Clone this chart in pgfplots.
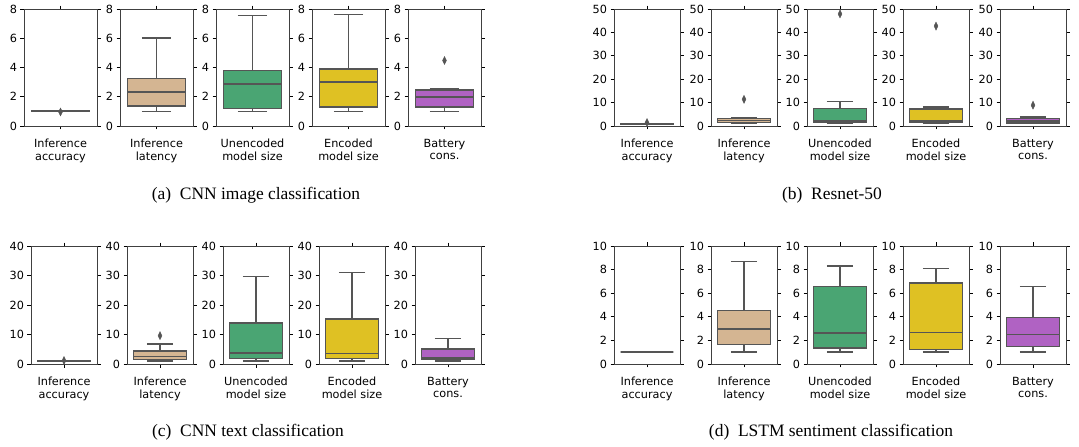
\documentclass[border=0pt]{standalone}
\usepackage{fontspec}
\usepackage{pgfplots}
\pgfplotsset{compat=1.18}
\usepgfplotslibrary{statistics}
\setmainfont{Liberation Serif}
\newfontfamily\dejavu{DejaVu Sans}
\definecolor{ctan}{HTML}{D4B592}
\definecolor{cgreen}{HTML}{4AA573}
\definecolor{cyellow}{HTML}{DFC123}
\definecolor{cpurple}{HTML}{B062C3}
\definecolor{cacc}{HTML}{5A5A5A}
\definecolor{bxedge}{HTML}{555555}
\pgfplotsset{
  panel/.style={scale only axis, anchor=south west, xmin=-0.5, xmax=0.5, ymin=0,
    xtick={0}, tick align=outside, major tick length=3.5bp,
    tick style={black, line width=0.8bp},
    axis line style={black!75, line width=0.9bp},
    yticklabel style={font=\dejavu\fontsize{11.3}{13}\selectfont},
    xticklabel style={align=center, font=\dejavu\fontsize{11.3}{12.8}\selectfont, yshift=-6bp},
    /pgf/number format/assume math mode=true, clip=false},
  gA/.style={panel, width=73bp, height=117bp, ymax=8, ytick={0,2,4,6,8}},
  gB/.style={panel, width=66bp, height=117bp, ymax=50, ytick={0,10,20,30,40,50}},
  gC/.style={panel, width=66bp, height=118bp, ymax=40, ytick={0,10,20,30,40}},
  gD/.style={panel, width=66bp, height=118bp, ymax=10, ytick={0,2,4,6,8,10}},
  bxs/.style={draw=bxedge, line width=1.5bp, solid,
    mark=diamond*, mark size=4bp, mark options={fill=bxedge, draw=bxedge, xscale=0.65, line width=0.4bp, solid}},
}
% #1 style+position, #2 label, #3 colour, #4 lw, #5 lq, #6 med, #7 uq, #8 uw, #9 data
\newcommand{\mypanel}[9]{%
  \begin{axis}[#1, xticklabels={#2}]
  \addplot+[boxplot/draw direction=y, boxplot prepared={lower whisker=#4, lower quartile=#5, median=#6,
      upper quartile=#7, upper whisker=#8, draw position=0, box extend=0.8, whisker extend=0.4},
    fill=#3, bxs] #9;
  \end{axis}}
\begin{document}
\begin{tikzpicture}
\useasboundingbox (0,0) rectangle (1079bp,447bp);
% (a)
\mypanel{gA,at={(24bp,321bp)}}{{Inference\\accuracy}}{cacc}{0.99}{0.99}{1.0}{1.01}{1.01}{table[row sep=\\,y index=0]{data\\ 0.96\\}}
\mypanel{gA,at={(120bp,321bp)}}{{Inference\\latency}}{ctan}{1.0}{1.37}{2.33}{3.25}{6.03}{coordinates {}}
\mypanel{gA,at={(216bp,321bp)}}{{Unencoded\\model size}}{cgreen}{1.0}{1.21}{2.86}{3.79}{7.54}{coordinates {}}
\mypanel{gA,at={(312bp,321bp)}}{{Encoded\\model size}}{cyellow}{1.0}{1.30}{3.0}{3.91}{7.63}{coordinates {}}
\mypanel{gA,at={(408bp,321bp)}}{{Battery\\cons.}}{cpurple}{1.0}{1.30}{1.99}{2.45}{2.54}{table[row sep=\\,y index=0]{data\\ 4.48\\}}
% (b)
\mypanel{gB,at={(614bp,321bp)}}{{Inference\\accuracy}}{cacc}{0.9}{0.95}{1.0}{1.05}{1.1}{table[row sep=\\,y index=0]{data\\ 1.5\\}}
\mypanel{gB,at={(711bp,321bp)}}{{Inference\\latency}}{ctan}{1.0}{1.4}{2.3}{3.1}{3.6}{table[row sep=\\,y index=0]{data\\ 11.4\\}}
\mypanel{gB,at={(807bp,321bp)}}{{Unencoded\\model size}}{cgreen}{1.0}{1.7}{2.3}{7.4}{10.4}{table[row sep=\\,y index=0]{data\\ 47.9\\}}
\mypanel{gB,at={(903bp,321bp)}}{{Encoded\\model size}}{cyellow}{1.0}{1.7}{2.3}{7.3}{8.1}{table[row sep=\\,y index=0]{data\\ 42.7\\}}
\mypanel{gB,at={(1000bp,321bp)}}{{Battery\\cons.}}{cpurple}{1.0}{1.3}{2.1}{3.1}{3.9}{table[row sep=\\,y index=0]{data\\ 8.9\\}}
% (c)
\mypanel{gC,at={(31bp,83bp)}}{{Inference\\accuracy}}{cacc}{0.95}{1.0}{1.05}{1.1}{1.15}{table[row sep=\\,y index=0]{data\\ 1.2\\}}
\mypanel{gC,at={(127bp,83bp)}}{{Inference\\latency}}{ctan}{1.0}{1.6}{2.5}{4.4}{6.7}{table[row sep=\\,y index=0]{data\\ 9.6\\}}
\mypanel{gC,at={(223bp,83bp)}}{{Unencoded\\model size}}{cgreen}{1.0}{1.9}{3.8}{13.9}{29.6}{coordinates {}}
\mypanel{gC,at={(319bp,83bp)}}{{Encoded\\model size}}{cyellow}{1.0}{1.9}{3.5}{15.3}{31.0}{coordinates {}}
\mypanel{gC,at={(415bp,83bp)}}{{Battery\\cons.}}{cpurple}{1.0}{1.6}{2.1}{5.1}{8.6}{coordinates {}}
% (d)
\mypanel{gD,at={(614bp,83bp)}}{{Inference\\accuracy}}{cacc}{1.0}{1.0}{1.0}{1.0}{1.0}{coordinates {}}
\mypanel{gD,at={(711bp,83bp)}}{{Inference\\latency}}{ctan}{1.0}{1.64}{2.97}{4.55}{8.7}{coordinates {}}
\mypanel{gD,at={(807bp,83bp)}}{{Unencoded\\model size}}{cgreen}{1.0}{1.36}{2.63}{6.58}{8.3}{coordinates {}}
\mypanel{gD,at={(903bp,83bp)}}{{Encoded\\model size}}{cyellow}{1.0}{1.24}{2.68}{6.86}{8.08}{coordinates {}}
\mypanel{gD,at={(1000bp,83bp)}}{{Battery\\cons.}}{cpurple}{1.0}{1.5}{2.51}{3.95}{6.58}{coordinates {}}
% captions
\node at (256bp,252bp) {\fontsize{17.5}{20}\selectfont (a)\enspace CNN image classification};
\node at (832bp,252bp) {\fontsize{17.5}{20}\selectfont (b)\enspace Resnet-50};
\node at (248bp,15bp) {\fontsize{17.5}{20}\selectfont (c)\enspace CNN text classification};
\node at (831bp,15bp) {\fontsize{17.5}{20}\selectfont (d)\enspace LSTM sentiment classification};
\end{tikzpicture}
\end{document}
